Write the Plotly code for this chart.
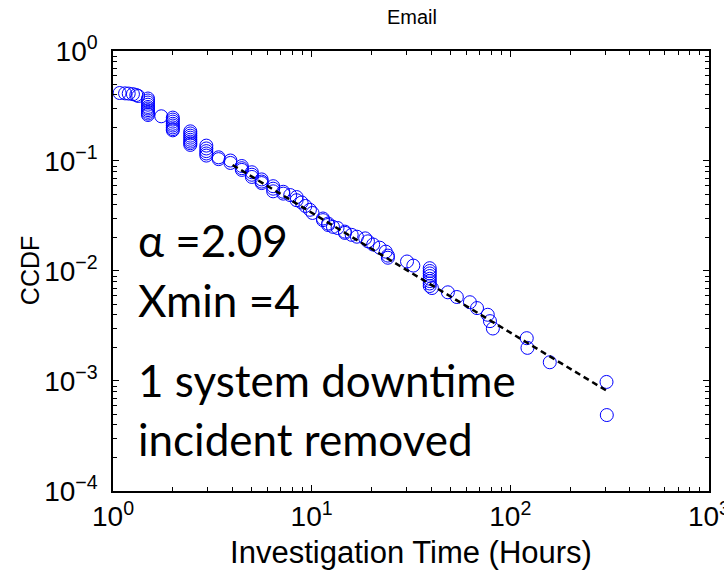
import plotly.graph_objects as go

# Empirical CCDF of investigation times (hours), one entry per plotted sample
hours = [
    1.08, 1.15, 1.20, 1.26, 1.31, 1.34,
    1.5, 1.5, 1.5, 1.5, 1.5, 1.5, 1.5, 1.5, 1.5, 1.5,
    1.75,
    2.0, 2.0, 2.0, 2.0, 2.0, 2.0, 2.0, 2.0,
    2.45, 2.45, 2.45, 2.45, 2.45, 2.45, 2.45, 2.45,
    2.95, 2.95, 2.95, 2.95, 2.95,
    3.4, 3.4,
    3.9, 3.9,
    4.45, 4.45, 4.45,
    5.0, 5.0, 5.0,
    5.6, 5.6, 5.6,
    6.4, 6.4, 6.4,
    7.2, 7.2,
    7.8,
    8.4, 8.4,
    8.9, 9.3, 9.8, 10.1,
    11.4, 11.4,
    12.1, 12.1,
    12.8, 13.5,
    14.7, 14.7,
    15.9, 16.9, 18.6, 19.2, 20.4, 22.0, 23.6,
    24.2, 24.2,
    30.2, 32.5,
    39.3, 39.3, 39.3, 39.3, 39.3, 39.3, 39.3, 39.3,
    40.3, 48.5, 53.8, 62.6, 68.0, 77.0, 79.0, 81.7,
    121.0, 122.0, 158.0, 305.0, 306.0,
]
ccdf = [
    0.415, 0.412, 0.410, 0.405, 0.398, 0.390,
    0.370, 0.355, 0.340, 0.325, 0.310, 0.300, 0.290, 0.280, 0.270, 0.262,
    0.255,
    0.248, 0.238, 0.228, 0.218, 0.210, 0.202, 0.195, 0.190,
    0.186, 0.178, 0.170, 0.163, 0.156, 0.150, 0.145, 0.140,
    0.138, 0.130, 0.123, 0.117, 0.112,
    0.108, 0.104,
    0.101, 0.096,
    0.090, 0.086, 0.083,
    0.079, 0.075, 0.0716,
    0.068, 0.065, 0.063,
    0.059, 0.056, 0.053,
    0.0525, 0.0505,
    0.049,
    0.047, 0.044,
    0.042, 0.039, 0.036, 0.0337,
    0.030, 0.029,
    0.027, 0.0262,
    0.0252, 0.0246,
    0.0228, 0.0222,
    0.0213, 0.0205, 0.0198, 0.0186, 0.0174, 0.0163, 0.0150,
    0.0138, 0.0132,
    0.0122, 0.0112,
    0.0106, 0.0100, 0.0095, 0.0090, 0.0085, 0.0081, 0.0077, 0.0073,
    0.0070, 0.0064, 0.0058, 0.0052, 0.0046, 0.0040, 0.0035, 0.0030,
    0.00245, 0.00200, 0.00148, 0.00098, 0.00049,
]

# Power-law fit parameters
alpha = 2.09
xmin = 4
ccdf_at_xmin = 0.092
x_fit_end = 306

x_tick_vals = [1, 10, 100, 1000]
x_tick_text = ["10<sup>0</sup>", "10<sup>1</sup>", "10<sup>2</sup>", "10<sup>3</sup>"]
y_tick_vals = [1e-4, 1e-3, 1e-2, 1e-1, 1]
y_tick_text = ["10<sup>−4</sup>", "10<sup>−3</sup>", "10<sup>−2</sup>", "10<sup>−1</sup>", "10<sup>0</sup>"]

# Minor ticks at 2..9 within each decade
x_minor = [m * 10 ** d for d in range(0, 3) for m in range(2, 10)]
y_minor = [m * 10.0 ** d for d in range(-4, 0) for m in range(2, 10)]

fit_x = [xmin * (x_fit_end / xmin) ** (i / 60) for i in range(61)]
fit_y = [ccdf_at_xmin * (x / xmin) ** (-(alpha - 1)) for x in fit_x]

fig = go.Figure()
fig.add_trace(go.Scatter(
    x=hours, y=ccdf, mode="markers",
    marker=dict(symbol="circle-open", size=13, color="#0000FF", line=dict(width=1)),
    showlegend=False,
))
fig.add_trace(go.Scatter(
    x=fit_x, y=fit_y, mode="lines",
    line=dict(color="black", width=2.5, dash="6px,4px"),
    showlegend=False,
))

label_font = "Liberation Sans, Arial, sans-serif"

axis_common = dict(
    type="log",
    automargin=False,
    showgrid=False,
    zeroline=False,
    showline=True,
    linecolor="black",
    linewidth=1.5,
    mirror="allticks",
    ticks="inside",
    ticklen=6,
    tickwidth=1,
    tickcolor="black",
    ticklabeloverflow="allow",
    tickfont=dict(family=label_font, size=28, color="black"),
)

fig.update_xaxes(
    range=[0, 3.0002], tickmode="array", tickvals=x_tick_vals, ticktext=x_tick_text,
    minor=dict(tickmode="array", tickvals=x_minor, ticks="inside", ticklen=4,
               tickcolor="black", showgrid=False),
    title=dict(text="Investigation Time (Hours)", font=dict(family=label_font, size=31, color="black"), standoff=10),
    **axis_common,
)
fig.update_yaxes(
    range=[-4.0002, 0], tickmode="array", tickvals=y_tick_vals, ticktext=y_tick_text,
    ticklabelstandoff=8,
    minor=dict(tickmode="array", tickvals=y_minor, ticks="inside", ticklen=4,
               tickcolor="black", showgrid=False),
    **axis_common,
)

# Y-axis title placed as a rotated label just left of the tick labels
fig.add_annotation(x=-0.139, y=0.5, xref="paper", yref="paper", text="CCDF", showarrow=False,
                   textangle=-90, xanchor="center", yanchor="middle",
                   font=dict(family=label_font, size=25, color="black"))

note_font = dict(family="Lato, Noto Sans, sans-serif", size=44, color="black")
note_x = 0.118
fig.add_annotation(x=note_x, y=-1.72, xref="x", yref="y", text="α =2.09", showarrow=False,
                   xanchor="left", yanchor="middle", font=note_font)
fig.add_annotation(x=note_x, y=-2.26, xref="x", yref="y", text="Xmin =4", showarrow=False,
                   xanchor="left", yanchor="middle", font=note_font)
fig.add_annotation(x=note_x, y=-2.99, xref="x", yref="y", text="1 system downtime", showarrow=False,
                   xanchor="left", yanchor="middle", font=note_font)
fig.add_annotation(x=note_x, y=-3.53, xref="x", yref="y", text="incident removed", showarrow=False,
                   xanchor="left", yanchor="middle", font=note_font)

fig.update_layout(
    width=724, height=577,
    margin=dict(l=113, r=15, t=51, b=86),
    paper_bgcolor="white", plot_bgcolor="white",
    title=dict(text="Email", x=0.569, xanchor="center", y=0.982, yanchor="top",
               font=dict(family=label_font, size=20, color="black")),
)

fig.write_html("out.html")
